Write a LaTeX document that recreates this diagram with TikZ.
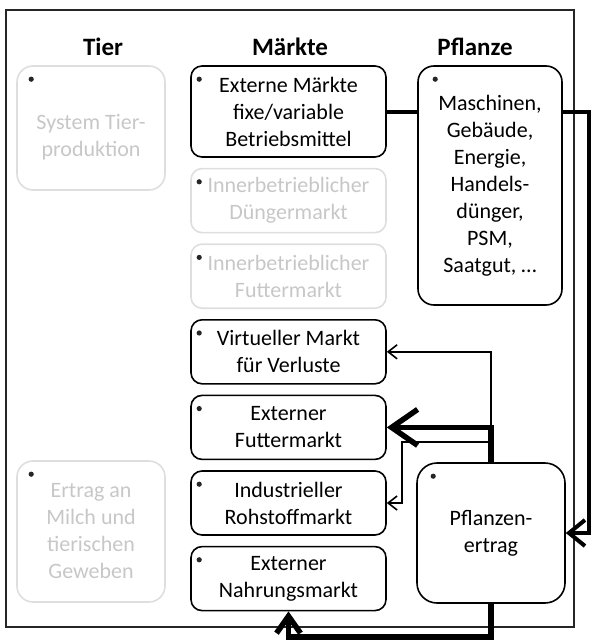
\documentclass[tikz,border=0pt]{standalone}
\usepackage{fontspec}
\setmainfont{Carlito}
\usetikzlibrary{arrows.meta, positioning, calc}

\tikzset{
	box/.style={draw, line width=1.6pt, rounded corners=11pt, align=center, minimum width=195pt, minimum height=64pt, inner sep=2pt},
	faded/.style={draw=black!13, text=black!22},
	head/.style={font=\fontsize{25}{30}\selectfont\bfseries},
	thinline/.style={line width=1.6pt, -{Straight Barb[length=9pt,width=14pt]}},
	midline/.style={line width=4pt},
	fatline/.style={line width=5.5pt}
}

\begin{document}
\begin{tikzpicture}[x=1pt, y=-1pt, node distance=10pt, font=\fontsize{22}{27}\selectfont]
			\useasboundingbox (0,0) rectangle (593,642);
			\draw[line width=1.6pt, black!85] (6,10) rectangle (574,627);

			% column heads
			\node[head] (htier) at (103,47) {Tier};
			\node[head] (hmkt) at (290,47) {Märkte};
			\node[head] (hpfl) at (475,47) {Pflanze};

			% Tier
			\node[box, faded, minimum width=148pt, minimum height=124pt, rounded corners=16pt] (tsys) at (91,128) {\rule{0pt}{34pt}System Tier-\\produktion};
			\node[box, faded, minimum width=148pt, minimum height=141pt, rounded corners=16pt] (tmilch) at (91,531.5) {Ertrag an\\Milch und\\tierischen\\Geweben};

			% Maerkte
			\node[box, minimum height=91pt] (ext) at (288.5,111.5) {Externe Märkte\\fixe/variable\\Betriebsmittel};
			\node[box, faded, below =of ext] (dung) {Innerbetrieblicher\\Düngermarkt};
			\node[box, faded, below =of dung] (futin) {Innerbetrieblicher\\Futtermarkt};
			\node[box, below =of futin] (virt) {Virtueller Markt\\für Verluste};
			\node[box, below =of virt] (futex) {Externer\\Futtermarkt};
			\node[box, below =of futex] (roh) {Industrieller\\Rohstoffmarkt};
			\node[box, below =of roh] (nahr) {Externer\\Nahrungsmarkt};

			% Pflanze
			\node[box, minimum width=144pt, minimum height=239pt, rounded corners=16pt] (pfl) at (490,185.5) {Maschinen,\\Gebäude,\\Energie,\\Handels-\\dünger,\\PSM,\\Saatgut, \dots};
			\node[box, minimum width=148pt, minimum height=140pt, rounded corners=20pt] (ertrag) at (491,533) {Pflanzen-\\ertrag};

			\foreach \n/\dx in {tsys/15, tmilch/15, ext/9, dung/9, futin/9, virt/9, futex/9, roh/9, nahr/9, pfl/18, ertrag/17}
				\fill[black!85] ([shift={(\dx,14)}]\n.north west) circle (2.6);

			\coordinate (rt) at (589,0);
			\coordinate (kn) at (402,442);
			\coordinate (bt) at (0,637);

			\draw[midline] (ext.east) -- (ext.east -| pfl.west);
			\draw[midline, -{Straight Barb[length=16pt,width=26pt]}] (pfl.east |- ext.east) -- (rt |- ext.east) -- (rt |- ertrag.east) -- (ertrag.east);
			\draw[thinline] (ertrag.north) |- (virt.east);
			\draw[thinline] (ertrag.north |- kn) -- (kn) |- (roh.east);
			\draw[fatline, -{Straight Barb[length=26pt,width=36pt]}] (ertrag.north) |- (futex.east);
			\draw[fatline, -{Straight Barb[length=17pt,width=24pt]}] (ertrag.south) -- (ertrag.south |- bt) -| (nahr.south);
		\end{tikzpicture}
\end{document}
